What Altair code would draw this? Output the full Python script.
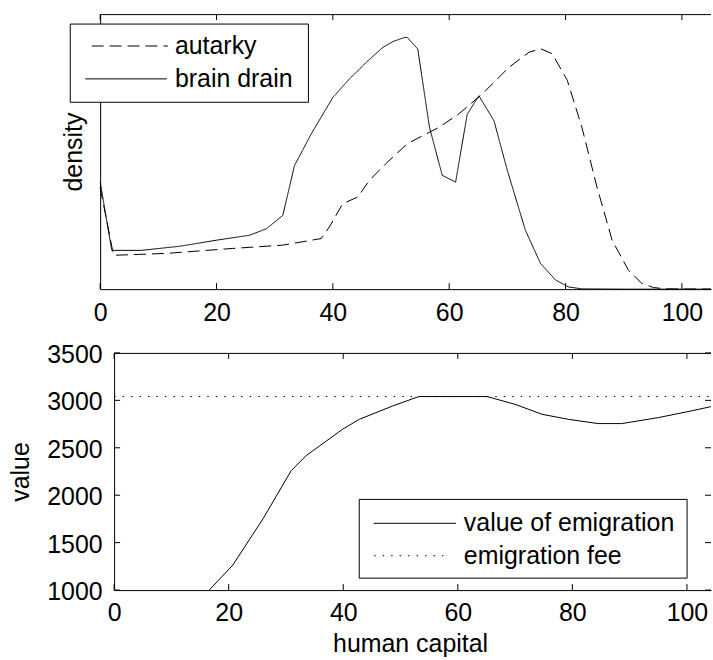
import altair as alt
import pandas as pd

# ---------------------------------------------------------------------------
# Data
# ---------------------------------------------------------------------------
# Density of human capital (relative units; the density axis carries no scale)
autarky_h = [0, 2.3, 11.4, 22.8, 31.4, 38.0, 39.4, 41.7, 44.3, 46.3, 49.1,
             52.8, 58.3, 61.7, 65.7, 70.3, 73.7, 75.7, 77.7, 80.3, 82.8,
             85.4, 88.0, 90.8, 93.1, 95.1, 97.1, 105]
autarky_d = [0.37, 0.123, 0.130, 0.148, 0.160, 0.184, 0.226, 0.311, 0.335,
             0.396, 0.456, 0.529, 0.589, 0.638, 0.710, 0.807, 0.861, 0.874,
             0.856, 0.759, 0.589, 0.371, 0.178, 0.069, 0.021, 0.006, 0.001, 0]

drain_h = [0, 2.0, 7.1, 13.7, 20.0, 25.7, 28.6, 31.4, 33.4, 36.3, 40.0,
           42.8, 45.7, 48.6, 50.3, 52.3, 52.8, 54.6, 56.6, 58.8, 61.1, 63.1,
           65.1, 67.7, 70.0, 73.1, 75.7, 78.3, 80.5, 82.8, 90, 105]
drain_d = [0.39, 0.141, 0.141, 0.156, 0.178, 0.196, 0.220, 0.268, 0.449,
           0.565, 0.697, 0.763, 0.824, 0.879, 0.900, 0.915, 0.915, 0.873,
           0.589, 0.414, 0.389, 0.636, 0.703, 0.612, 0.431, 0.214, 0.093,
           0.033, 0.008, 0.001, 0, 0]

# Value of emigration by human capital, and the flat emigration fee
value_h = [16.6, 20.7, 26.0, 30.9, 33.5, 39.9, 42.8, 48.6, 53.2, 65.1, 70.0,
           74.7, 79.3, 84.5, 88.6, 95.0, 100.7, 104.2]
value_v = [1000, 1262, 1752, 2258, 2416, 2696, 2800, 2940, 3040, 3040, 2958,
           2853, 2800, 2755, 2755, 2818, 2888, 2934]
fee = 3040

x_ticks = [0, 20, 40, 60, 80, 100]
v_ticks = [1000, 1500, 2000, 2500, 3000, 3500]

# ---------------------------------------------------------------------------
# Layout and style
# ---------------------------------------------------------------------------
FONT = "Liberation Sans"
FS = 25
TOP_W, TOP_H = 613, 276
BOT_W, BOT_H = 613, 238
BOT_X0 = 14          # lower panel's plot area starts 14 px further right
TICK = 6
DASH = [12, 6]
DOT = [1.5, 7]

dens = pd.concat([
    pd.DataFrame({"h": autarky_h, "d": autarky_d, "series": "autarky"}),
    pd.DataFrame({"h": drain_h, "d": drain_d, "series": "brain drain"}),
])
xt = pd.DataFrame({"t": x_ticks})
vt = pd.DataFrame({"v": v_ticks})
one = pd.DataFrame({"k": [0]})

x_top = alt.Scale(domain=[0, 105], range=[0, TOP_W], nice=False)
y_top = alt.Scale(domain=[0, 1], nice=False, zero=False)
x_bot = alt.Scale(domain=[0, 104.2], range=[BOT_X0, BOT_W], nice=False)
y_bot = alt.Scale(domain=[1000, 3500], nice=False, zero=False)

# One axis object per channel, reused by every layer that encodes it so the
# layers merge into a single axis.
ax_top_x = alt.Axis(title=None, values=x_ticks, ticks=False, labelPadding=23,
                    labelBaseline="middle", labelFlush=False, grid=False,
                    format="d")
ax_top_y = alt.Axis(title="density", labels=False, ticks=False, grid=False,
                    titleX=-19, titleBaseline="alphabetic", titleAlign="center")
ax_bot_x = alt.Axis(title="human capital", values=x_ticks, ticks=False,
                    labelPadding=23, labelBaseline="middle", labelFlush=False,
                    grid=False, titleBaseline="alphabetic", titleY=61.5,
                    titleX=311, format="d")
ax_bot_y = alt.Axis(title="value", values=v_ticks, ticks=False, format="d",
                    offset=-BOT_X0, labelPadding=12, labelAlign="right",
                    labelBaseline="middle", labelOffset=1.5, labelFlush=False,
                    grid=False, titleX=-85.5, titleBaseline="alphabetic",
                    titleAlign="center")


def rule(**enc):
    return alt.Chart(one).mark_rule(color="black", strokeWidth=1).encode(**enc)


def text(x, y, s):
    return alt.Chart(one).mark_text(
        align="left", baseline="alphabetic", font=FONT, fontSize=FS,
        color="black").encode(x=alt.value(x), y=alt.value(y), text=alt.value(s))


# ---------------------------------------------------------------------------
# Upper panel: densities
# ---------------------------------------------------------------------------
dens_lines = alt.Chart(dens).mark_line(color="black", strokeWidth=1).encode(
    x=alt.X("h:Q", scale=x_top, axis=ax_top_x),
    y=alt.Y("d:Q", scale=y_top, axis=ax_top_y),
    strokeDash=alt.StrokeDash(
        "series:N",
        scale=alt.Scale(domain=["autarky", "brain drain"], range=[DASH, [1, 0]]),
        legend=None),
)

top_ticks_b = alt.Chart(xt).mark_rule(color="black").encode(
    x=alt.X("t:Q", scale=x_top, axis=ax_top_x),
    y=alt.value(TOP_H), y2=alt.value(TOP_H - TICK))
top_ticks_t = alt.Chart(xt).mark_rule(color="black").encode(
    x=alt.X("t:Q", scale=x_top, axis=ax_top_x),
    y=alt.value(0.5), y2=alt.value(TICK))
top_spine = rule(x=alt.value(0), x2=alt.value(TOP_W), y=alt.value(0.5))

top_legend = [
    alt.Chart(one).mark_rect(fill="white", stroke="black", strokeWidth=1).encode(
        x=alt.value(-30), x2=alt.value(209), y=alt.value(10), y2=alt.value(88.5)),
    alt.Chart(one).mark_rule(color="black", strokeDash=DASH).encode(
        x=alt.value(-8.5), x2=alt.value(68), y=alt.value(32)),
    rule(x=alt.value(-15), x2=alt.value(67), y=alt.value(65)),
    text(75, 40, "autarky"),
    text(75, 73, "brain drain"),
]

top = alt.layer(dens_lines, top_ticks_b, top_ticks_t, top_spine,
                *top_legend).properties(width=TOP_W, height=TOP_H)

# ---------------------------------------------------------------------------
# Lower panel: value of emigration vs. emigration fee
# ---------------------------------------------------------------------------
val_df = pd.DataFrame({"h": value_h, "v": value_v})
fee_df = pd.DataFrame({"h": [0, 104.2], "v": [fee, fee]})

value_line = alt.Chart(val_df).mark_line(color="black", strokeWidth=1).encode(
    x=alt.X("h:Q", scale=x_bot, axis=ax_bot_x),
    y=alt.Y("v:Q", scale=y_bot, axis=ax_bot_y),
)
fee_line = alt.Chart(fee_df).mark_line(color="black", strokeWidth=1,
                                       strokeDash=DOT).encode(
    x=alt.X("h:Q", scale=x_bot, axis=ax_bot_x),
    y=alt.Y("v:Q", scale=y_bot, axis=ax_bot_y))

bot_ticks = [
    alt.Chart(xt).mark_rule(color="black").encode(
        x=alt.X("t:Q", scale=x_bot, axis=ax_bot_x),
        y=alt.value(BOT_H), y2=alt.value(BOT_H - TICK)),
    alt.Chart(xt).mark_rule(color="black").encode(
        x=alt.X("t:Q", scale=x_bot, axis=ax_bot_x),
        y=alt.value(0.5), y2=alt.value(TICK)),
    alt.Chart(vt).mark_rule(color="black").encode(
        y=alt.Y("v:Q", scale=y_bot, axis=ax_bot_y),
        x=alt.value(BOT_X0), x2=alt.value(BOT_X0 + TICK)),
    alt.Chart(vt).mark_rule(color="black").encode(
        y=alt.Y("v:Q", scale=y_bot, axis=ax_bot_y),
        x=alt.value(BOT_W - TICK), x2=alt.value(BOT_W)),
    rule(x=alt.value(BOT_X0), x2=alt.value(BOT_W), y=alt.value(0.5)),
]

bot_legend = [
    alt.Chart(one).mark_rect(fill="white", stroke="black", strokeWidth=1).encode(
        x=alt.value(260), x2=alt.value(589), y=alt.value(147), y2=alt.value(226)),
    rule(x=alt.value(274.5), x2=alt.value(357), y=alt.value(171)),
    alt.Chart(one).mark_rule(color="black", strokeDash=DOT).encode(
        x=alt.value(275), x2=alt.value(350), y=alt.value(203.5)),
    text(365, 179, "value of emigration"),
    text(365, 211.5, "emigration fee"),
]

bottom = alt.layer(value_line, fee_line, *bot_ticks,
                   *bot_legend).properties(width=BOT_W, height=BOT_H)

chart = alt.vconcat(top, bottom, spacing=64, bounds="flush").properties(
    padding={"left": 8.5, "top": 13, "right": 0, "bottom": 0},
    background="white",
).configure_view(stroke=None).configure_axis(
    labelFont=FONT, labelFontSize=FS, labelColor="black",
    titleFont=FONT, titleFontSize=FS, titleColor="black",
    titleFontWeight="normal", domainColor="black", domainWidth=1,
)

chart.save("out.html", embed_options={"renderer": "svg", "actions": False})
